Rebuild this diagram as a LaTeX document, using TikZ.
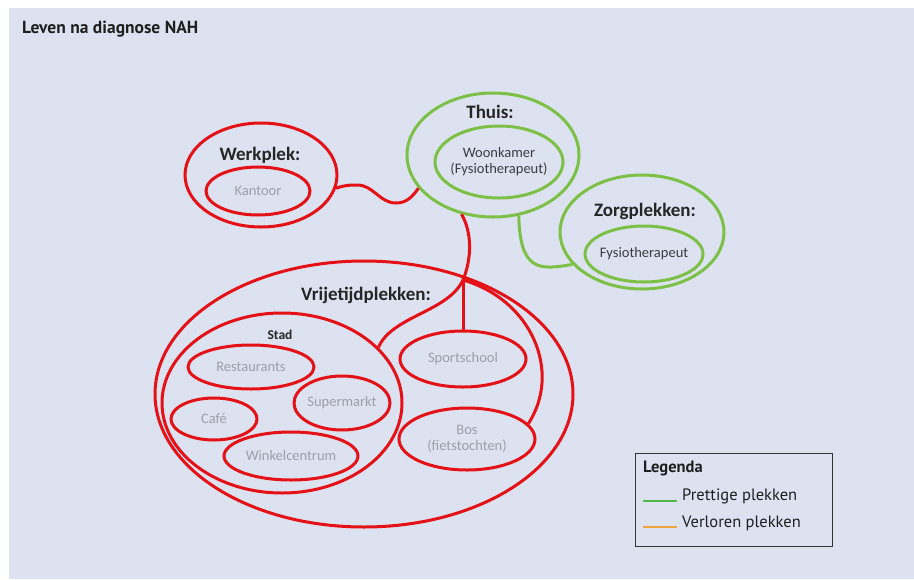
\documentclass[tikz,border=0pt]{standalone}
\usepackage{fontspec}
\setmainfont{Carlito}
\newfontfamily\legfont{PT Sans}
\usetikzlibrary{shapes.geometric}

\definecolor{bg}{RGB}{221,226,241}
\definecolor{rood}{RGB}{228,18,22}
\definecolor{groen}{RGB}{124,192,70}
\definecolor{leggroen}{RGB}{80,184,72}
\definecolor{legoranje}{RGB}{238,162,60}
\definecolor{grijs}{RGB}{158,158,166}
\definecolor{donker}{RGB}{60,60,64}

\begin{document}
\begin{tikzpicture}[x=1pt,y=-1pt,
  plek/.style={ellipse,draw,inner sep=0pt,line width=3pt},
  roodplek/.style={plek,draw=rood},
  groenplek/.style={plek,draw=groen},
  kop/.style={font=\fontsize{19}{21}\selectfont\bfseries,text=black!85,inner sep=0pt},
  sub/.style={font=\fontsize{14.5}{16}\selectfont,align=center,text=grijs},
  subdonker/.style={sub,text=donker},
  lijnrood/.style={draw=rood,line width=3pt},
  lijngroen/.style={draw=groen,line width=3pt},
  legtxt/.style={font=\legfont\fontsize{16.5}{18}\selectfont,text=black!88,inner sep=0pt}]

  \useasboundingbox (0,0) rectangle (914,579);
  \fill[bg] (9,8) rectangle (914,579);

  \node[anchor=west,font=\legfont\fontsize{17.5}{19}\selectfont\bfseries,
    text=black!88,inner sep=0pt] (titel) at (22,29) {Leven na diagnose NAH};

  %% werkplek
  \node[roodplek,minimum width=152pt,minimum height=104pt] (werkplek) at (261,175) {};
  \node[kop] (werkkop) at (260,155) {Werkplek:};
  \node[roodplek,minimum width=104pt,minimum height=48pt] (kantoor) at (258,191) {};
  \node[sub] at (kantoor) {Kantoor};

  %% thuis
  \node[groenplek,minimum width=172pt,minimum height=124pt] (thuis) at (493,155) {};
  \node[kop] (thuiskop) at (490,112) {Thuis:};
  \node[groenplek,minimum width=128pt,minimum height=72pt] (woonkamer) at (499,162) {};
  \node[subdonker] at (woonkamer) {Woonkamer\\(Fysiotherapeut)};

  %% zorgplekken
  \node[groenplek,minimum width=164pt,minimum height=114pt] (zorg) at (642,232) {};
  \node[kop] (zorgkop) at (645,211) {Zorgplekken:};
  \node[groenplek,minimum width=118pt,minimum height=56pt] (fysio) at (644,254) {};
  \node[subdonker] at (fysio) {Fysiotherapeut};

  %% vrijetijdplekken
  \node[roodplek,minimum width=418pt,minimum height=266pt] (vrijetijd) at (364,394) {};
  \node[kop] (vrijkop) at (366,295) {Vrijetijdplekken:};
  \node[roodplek,minimum width=240pt,minimum height=180pt] (stad) at (282,403) {};
  \node[kop,font=\fontsize{13.5}{15}\selectfont\bfseries] (stadkop) at (280,335) {Stad};
  \node[roodplek,minimum width=126pt,minimum height=44pt] (restaurants) at (251,367) {};
  \node[sub] at (restaurants) {Restaurants};
  \node[roodplek,minimum width=96pt,minimum height=54pt] (supermarkt) at (342,403) {};
  \node[sub] at (supermarkt) {Supermarkt};
  \node[roodplek,minimum width=86pt,minimum height=42pt] (cafe) at (214,419) {};
  \node[sub] at (cafe) {Café};
  \node[roodplek,minimum width=134pt,minimum height=48pt] (winkel) at (291,456) {};
  \node[sub] at (winkel) {Winkelcentrum};
  \node[roodplek,minimum width=126pt,minimum height=56pt] (sportschool) at (463,359) {};
  \node[sub] at (sportschool) {Sportschool};
  \node[roodplek,minimum width=136pt,minimum height=62pt] (bos) at (467,439) {};
  \node[sub] at (bos) {Bos\\(fietstochten)};

  \coordinate (knoop) at (463,280);

  %% verbindingen
  \draw[lijnrood] (werkplek.-10) to[out=20,in=180] (357,185)
    to[out=0,in=180] (396,203) to[out=0,in=235] (thuis.204);
  \draw[lijngroen] (thuis.-67) .. controls (520,272) and (540,270) .. (zorg.205);
  \draw[lijnrood] (thuis.242) .. controls (472,232) and (472,258) .. (knoop);
  \draw[lijnrood] (knoop) -- (sportschool.north);
  \draw[lijnrood] (knoop) .. controls (448,312) and (392,316) .. (stad.30);
  \draw[lijnrood] (knoop) .. controls (532,300) and (562,372) .. (bos.14);

  %% legenda
  \node[draw=black!80,line width=1pt,minimum width=197pt,minimum height=93pt,
    inner sep=0pt] (legenda) at (733.5,499.5) {};
  \node[legtxt,font=\legfont\fontsize{16.5}{18}\selectfont\bfseries,anchor=west]
    (legkop) at (643,468) {Legenda};
  \node[legtxt,anchor=west] (prettig) at (682,496) {Prettige plekken};
  \node[legtxt,anchor=west] (verloren) at (682,523) {Verloren plekken};
  \draw[leggroen,line width=2.5pt] (643,501) -- (677,501);
  \draw[legoranje,line width=2.5pt] (643,527) -- (677,527);

\end{tikzpicture}
\end{document}
